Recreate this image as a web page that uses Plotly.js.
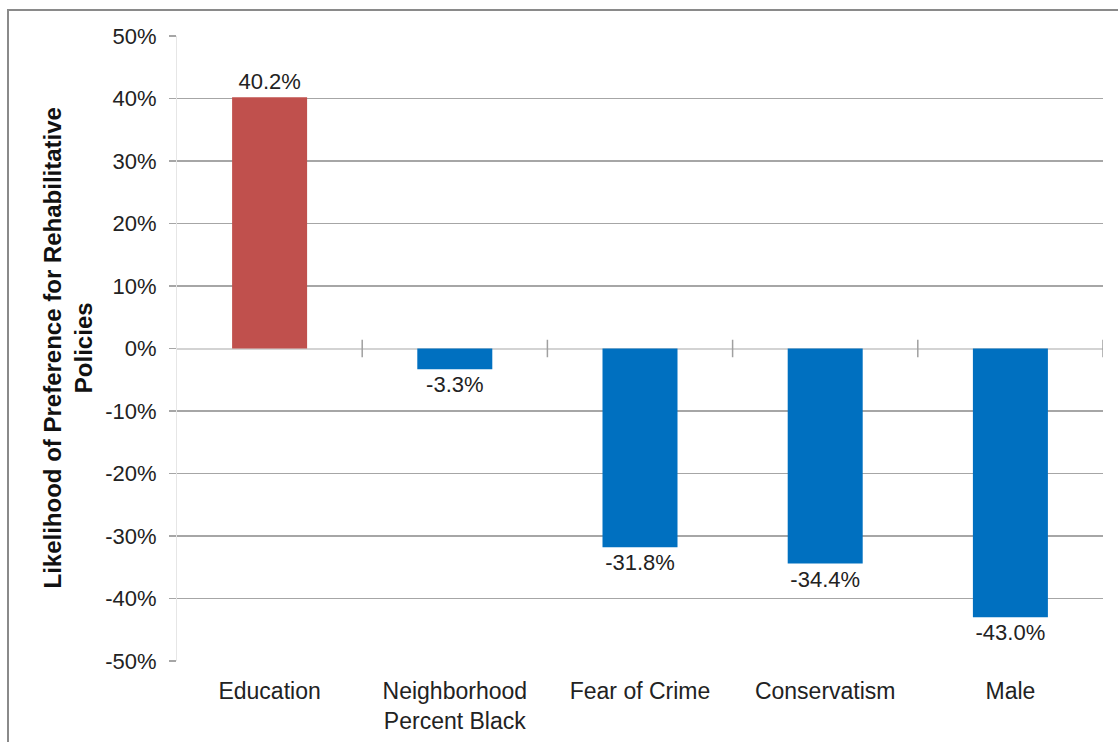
<!DOCTYPE html>
<html>
<head>
<meta charset="utf-8">
<script src="https://cdn.plot.ly/plotly-3.0.1.min.js"></script>
<style>
  html, body { margin: 0; padding: 0; background: #fff; overflow: hidden; }
  #chart { width: 1118px; height: 742px; position: absolute; left: 0; top: 0; }
  #frame { position: absolute; left: 7px; top: 9px; width: 1200px; height: 800px;
           border-top: 2px solid #8a8a8a; border-left: 2px solid #8a8a8a; pointer-events: none; }
</style>
</head>
<body>
<div id="chart"></div>
<div id="frame"></div>
<script>
const categories = ["Education", "Neighborhood<br>Percent Black", "Fear of Crime", "Conservatism", "Male"];
const values = [40.2, -3.3, -31.8, -34.4, -43.0];
const barColors = ["#C0504D", "#0070C0", "#0070C0", "#0070C0", "#0070C0"];
const yTickVals = [-50, -40, -30, -20, -10, 0, 10, 20, 30, 40, 50];
const yTickText = ["-50%", "-40%", "-30%", "-20%", "-10%", "0%", "10%", "20%", "30%", "40%", "50%"];
const yTitle = "Likelihood of Preference for Rehabilitative<br>Policies";

const font = "Liberation Sans, Arial, sans-serif";

const trace = {
  type: "bar",
  x: categories,
  y: values,
  width: 0.405,
  marker: { color: barColors },
  text: values.map(v => v.toFixed(1) + "%"),
  textposition: "outside",
  textfont: { family: font, size: 22, color: "#222" },
  cliponaxis: false,
  hoverinfo: "none"
};

// Category divider ticks on the zero line (at category boundaries)
const shapes = [];
for (let i = 1; i <= categories.length; i++) {
  shapes.push({
    type: "line", xref: "x", yref: "y",
    x0: i - 0.5, x1: i - 0.5, y0: -1.4, y1: 1.4,
    line: { color: "#a0a0a0", width: 1.5 }
  });
}

const layout = {
  width: 1118, height: 742,
  margin: { l: 177, r: 15, t: 36, b: 81, pad: 0 },
  paper_bgcolor: "#fff",
  plot_bgcolor: "#fff",
  showlegend: false,
  font: { family: font, size: 22, color: "#222" },
  xaxis: {
    type: "category",
    range: [-0.5, 4.5],
    showgrid: false, showline: false, zeroline: false, ticks: "",
    ticklabelstandoff: 14,
    tickfont: { family: font, size: 23, color: "#222" },
    fixedrange: true
  },
  yaxis: {
    range: [-50, 50],
    tickmode: "array",
    tickvals: yTickVals,
    ticktext: yTickText,
    showgrid: true, gridcolor: "#a6a6a6", gridwidth: 1.5,
    zeroline: true, zerolinecolor: "#d3d3d3", zerolinewidth: 2,
    showline: true, linecolor: "#e6e6e6", linewidth: 1,
    ticks: "outside", ticklen: 7, tickcolor: "#a6a6a6", tickwidth: 1.5,
    ticklabelstandoff: 8,
    tickfont: { family: font, size: 22, color: "#222" },
    fixedrange: true
  },
  annotations: [{
    xref: "paper", yref: "paper",
    x: (67 - 177) / 926, y: 0.5,
    xanchor: "center", yanchor: "middle",
    text: "<b>" + yTitle + "</b>",
    textangle: -90,
    showarrow: false,
    font: { family: font, size: 24, color: "#111" }
  }],
  shapes: shapes,
  bargap: 0.6
};

Plotly.newPlot("chart", [trace], layout, { displayModeBar: false, staticPlot: true });
</script>
</body>
</html>
